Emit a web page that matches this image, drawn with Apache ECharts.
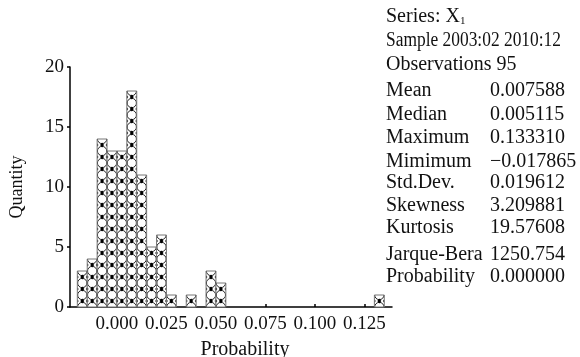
<!DOCTYPE html>
<html>
<head>
<meta charset="utf-8">
<script src="https://cdn.jsdelivr.net/npm/echarts/dist/echarts.min.js"></script>
<style>html,body{margin:0;padding:0;background:#fff;}#c{width:580px;height:357px;}</style>
</head>
<body>
<div id="c"></div>
<script>
// ---- data ----
var binWidth = 0.005;
var binLow = [-0.020, -0.015, -0.010, -0.005, 0.000, 0.005, 0.010, 0.015, 0.020, 0.025, 0.035, 0.045, 0.050, 0.130];
var counts = [3, 4, 14, 13, 13, 18, 11, 5, 6, 1, 1, 3, 2, 1];
var xTicks = [0.000, 0.025, 0.050, 0.075, 0.100, 0.125];
var yTicks = [0, 5, 10, 15, 20];
var headerSeries = 'X';
var headerSub = '1';
var headerSample = 'Sample 2003:02 2010:12';
var headerObs = 'Observations 95';
var statLabels = ['Mean', 'Median', 'Maximum', 'Mimimum', 'Std.Dev.', 'Skewness', 'Kurtosis', 'Jarque-Bera', 'Probability'];
var statValues = ['0.007588', '0.005115', '0.133310', '\u22120.017865', '0.019612', '3.209881', '19.57608', '1250.754', '0.000000'];

// ---- chart ----
var FONT = '"Liberation Serif", serif';
var chart = echarts.init(document.getElementById('c'), null, {renderer: 'canvas'});

var data = binLow.map(function (lo, i) { return [lo, lo + binWidth, counts[i]]; });

function renderItem(params, api) {
  var lo = api.value(0), hi = api.value(1), n = api.value(2);
  var p0 = api.coord([lo, 0]);
  var p1 = api.coord([hi, n]);
  var x = p0[0], bottom = p0[1], w = p1[0] - p0[0], h = p0[1] - p1[1];
  var cellH = h / n;
  var cx = x + w / 2;
  var r = Math.min(w / 2, cellH / 2) - 0.3;
  var children = [{
    type: 'rect', shape: {x: x, y: bottom - h, width: w, height: h},
    style: {fill: '#fff', stroke: null}
  }];
  for (var k = 0; k <= n; k++) {
    var cy = bottom - k * cellH;
    var st = {fill: null, stroke: '#222', lineWidth: 1};
    if (k === 0) {
      children.push({type: 'arc', shape: {cx: cx, cy: cy, r: r, startAngle: Math.PI, endAngle: 2 * Math.PI}, style: st});
    } else if (k === n) {
      children.push({type: 'arc', shape: {cx: cx, cy: cy, r: r, startAngle: 0, endAngle: Math.PI}, style: st});
    } else {
      children.push({type: 'circle', shape: {cx: cx, cy: cy, r: r}, style: st});
    }
  }
  for (var j = 0; j < n; j++) {
    var my = bottom - (j + 0.5) * cellH;
    children.push({type: 'polygon', shape: {points: [[cx, my - 2.4], [cx + 2, my], [cx, my + 2.4], [cx - 2, my]]},
      style: {fill: '#000'}});
    children.push({type: 'polygon', shape: {points: [[x, my - 1.8], [x + 1.4, my], [x, my + 1.8]]}, style: {fill: '#111'}});
    children.push({type: 'polygon', shape: {points: [[x + w, my - 1.8], [x + w - 1.4, my], [x + w, my + 1.8]]}, style: {fill: '#111'}});
  }
  children.push({
    type: 'rect', shape: {x: x, y: bottom - h, width: w, height: h},
    style: {fill: null, stroke: '#777', lineWidth: 1}
  });
  return {type: 'group', children: children};
}

var statGraphics = [];
function txt(x, y, s, sx) {
  return {type: 'text', x: x, y: y, scaleX: sx || 1,
    style: {text: s, font: '20px ' + FONT, fill: '#111', textVerticalAlign: 'top', verticalAlign: 'top'}};
}
statGraphics.push({
  type: 'text', x: 386, y: 6,
  style: {
    text: 'Series: ' + headerSeries + '{s|' + headerSub + '}',
    font: '20px ' + FONT, fill: '#111', verticalAlign: 'top',
    rich: {s: {fontSize: 11, fontFamily: 'Liberation Serif', fill: '#111', padding: [10, 0, 0, 0]}}
  }
});
statGraphics.push(txt(386, 31, headerSample, 0.87));
statGraphics.push(txt(386, 55, headerObs));
var rowY = [81, 105, 128, 152, 173, 196, 218, 245, 267];
statLabels.forEach(function (lab, i) {
  statGraphics.push(txt(386, rowY[i], lab));
  statGraphics.push(txt(490, rowY[i], statValues[i]));
});

chart.setOption({
  animation: false,
  backgroundColor: '#fff',
  grid: {left: 70, right: 188, top: 67, bottom: 50, containLabel: false, outerBoundsMode: 'none'},
  xAxis: {
    type: 'value', min: -0.0237, max: 0.1389,
    name: 'Probability', nameLocation: 'middle', nameGap: 33,
    nameTextStyle: {fontFamily: 'Liberation Serif', fontSize: 20, color: '#111', padding: [0, 0, 0, 28]},
    axisLine: {show: true, onZero: false, lineStyle: {color: '#000', width: 1.5}},
    axisTick: {show: true, inside: true, length: 3, lineStyle: {color: '#000', width: 1.5}, customValues: xTicks},
    axisLabel: {show: true, customValues: xTicks, margin: 8, fontFamily: 'Liberation Serif', fontSize: 19, color: '#111',
      formatter: function (v) { return v.toFixed(3); }},
    splitLine: {show: false}
  },
  yAxis: {
    type: 'value', min: 0, max: 20, interval: 5,
    name: 'Quantity', nameLocation: 'middle', nameGap: 44, nameRotate: 90,
    nameTextStyle: {fontFamily: 'Liberation Serif', fontSize: 18, color: '#111'},
    axisLine: {show: true, onZero: false, lineStyle: {color: '#000', width: 1.5}},
    axisTick: {show: true, inside: false, length: 3, lineStyle: {color: '#000', width: 1.5}},
    axisLabel: {margin: 6, fontFamily: 'Liberation Serif', fontSize: 19, color: '#111',
      formatter: function (v) { return yTicks.indexOf(v) >= 0 ? String(v) : ''; }},
    splitLine: {show: false}
  },
  series: [{
    type: 'custom', renderItem: renderItem, data: data,
    encode: {x: [0, 1], y: 2}, clip: false
  }],
  graphic: statGraphics
});
</script>
</body>
</html>
